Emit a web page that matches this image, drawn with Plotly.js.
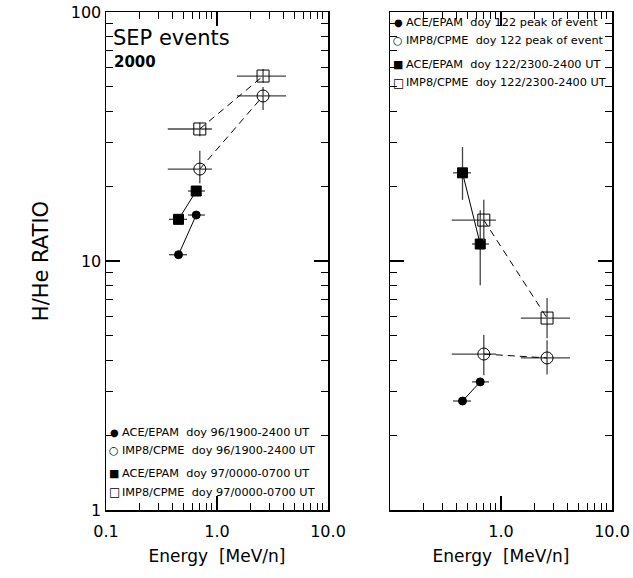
<!DOCTYPE html>
<html><head><meta charset="utf-8">
<script src="https://cdn.plot.ly/plotly-3.0.1.min.js"></script>
<style>body{margin:0;background:#fff}#c{width:633px;height:578px}</style>
</head><body><div id="c"></div>
<script>
// energies (MeV/n) and channel bounds
const eACE = [0.45, 0.65];
const eACElo = [0.37, 0.548];
const eACEhi = [0.537, 0.78];
const eIMP = [0.70, 2.6];
const eIMPlo = [0.36, 1.51];
const eIMPhi = [0.90, 4.19];
// left panel: H/He ratios
const ace96 = [10.6, 15.3];
const ace97 = [14.7, 19.1];
const imp96 = [23.4, 46];
const imp96lo = [20.5, 40.4];
const imp96hi = [27.7, 50];
const imp97 = [33.9, 55.3];
const imp97lo = [31.7, 52];
const imp97hi = [36, 59];
// right panel
const acePk = [2.74, 3.27];
const impPk = [4.23, 4.08];
const impPklo = [3.48, 3.5];
const impPkhi = [5.04, 4.8];
const ace23 = [22.6, 11.7];
const ace23lo = [17.6, 8.0];
const ace23hi = [28.7, 16.0];
const imp23 = [14.6, 5.9];
const imp23lo = [12.1, 4.9];
const imp23hi = [17.6, 7.1];
// tick labels
const xTickVals = [0.1, 1, 10];
const xTickLeft = ['0.1', '1.0', '10.0'];
const xTickRight = ['', '1.0', '10.0'];
const yTickVals = [1, 10, 100];
const yTickText = ['1', '10', '100'];

const W = 633, H = 578;
const ebc = '#444';
function xerr(x, lo, hi){return {type:'data', symmetric:false, array:hi.map((v,i)=>v-x[i]), arrayminus:x.map((v,i)=>v-lo[i]), color:ebc, thickness:1.3, width:0};}
function yerr(y, lo, hi){return {type:'data', symmetric:false, array:hi.map((v,i)=>v-y[i]), arrayminus:y.map((v,i)=>v-lo[i]), color:ebc, thickness:1.3, width:0};}
function tr(x, y, xa, ya, sym, size, dash, ex, ey){
  const t = {x:x, y:y, xaxis:xa, yaxis:ya, mode:'lines+markers', type:'scatter', showlegend:false,
    line:{color:'#000', width:1, dash:dash},
    marker:{symbol:sym, size:size, color:'#000', line:{color:'#000', width:1}}};
  if(ex) t.error_x = ex;
  if(ey) t.error_y = ey;
  return t;
}
const dsh = '7px,5px';
const data = [
  tr(eACE, ace96, 'x', 'y', 'circle', 8, 'solid', xerr(eACE,eACElo,eACEhi)),
  tr(eACE, ace97, 'x', 'y', 'square', 10, 'solid', xerr(eACE,eACElo,eACEhi)),
  tr(eIMP, imp96, 'x', 'y', 'circle-open', 12, dsh, xerr(eIMP,eIMPlo,eIMPhi), yerr(imp96,imp96lo,imp96hi)),
  tr(eIMP, imp97, 'x', 'y', 'square-open', 12, dsh, xerr(eIMP,eIMPlo,eIMPhi), yerr(imp97,imp97lo,imp97hi)),
  tr(eACE, acePk, 'x2', 'y2', 'circle', 8, 'solid', xerr(eACE,eACElo,eACEhi)),
  tr(eIMP, impPk, 'x2', 'y2', 'circle-open', 12, dsh, xerr(eIMP,eIMPlo,eIMPhi), yerr(impPk,impPklo,impPkhi)),
  tr(eACE, ace23, 'x2', 'y2', 'square', 10, 'solid', xerr(eACE,eACElo,eACEhi), yerr(ace23,ace23lo,ace23hi)),
  tr(eIMP, imp23, 'x2', 'y2', 'square-open', 12, dsh, xerr(eIMP,eIMPlo,eIMPhi), yerr(imp23,imp23lo,imp23hi))
];
const xMinor = [0.2,0.3,0.4,0.5,0.6,0.7,0.8,0.9,2,3,4,5,6,7,8,9];
const yMinor = [2,3,4,5,6,7,8,9,20,30,40,50,60,70,80,90];
const fnt = {family:'DejaVu Sans', size:16, color:'#000'};
function xax(dom, txt, anchor){
  return {type:'log', range:[-1,1], domain:dom, anchor:anchor, showgrid:false, zeroline:false,
    showline:true, linecolor:'#000', linewidth:1.5, mirror:'allticks', ticks:'inside', ticklen:14, tickwidth:1.2, tickcolor:'#000',
    tickvals:xTickVals, ticktext:txt, tickfont:fnt, ticklabelstandoff:6,
    minor:{ticks:'inside', ticklen:7, tickwidth:1, tickcolor:'#000', tickvals:xMinor, showgrid:false},
    title:{text:'Energy  [MeV/n]', font:{family:'DejaVu Sans', size:17, color:'#000'}, standoff:10}};
}
function yax(dom, showlab, anchor){
  return {type:'log', range:[0,2], domain:dom, anchor:anchor, showgrid:false, zeroline:false,
    showline:true, linecolor:'#000', linewidth:1.5, mirror:'allticks', ticks:'inside', ticklen:14, tickwidth:1.2, tickcolor:'#000',
    tickvals:yTickVals, ticktext: showlab ? yTickText : ['','',''], tickfont:fnt,
    minor:{ticks:'inside', ticklen:7, tickwidth:1, tickcolor:'#000', tickvals:yMinor, showgrid:false},
    title: showlab ? {text:'H/He RATIO', font:{family:'DejaVu Sans', size:21, color:'#000'}, standoff:16} : {text:''}};
}
const yd = [1-510/H, 1-12/H];
const legF = {family:'DejaVu Sans', size:11.3, color:'#000'};
function leg(xp, yp, s, t, ss){
  return [{xref:'paper', yref:'paper', x:xp/W, y:1-yp/H, text:s, showarrow:false, xanchor:'center', yanchor:'middle', font:{family:'DejaVu Sans', size:ss, color:'#000'}},
          {xref:'paper', yref:'paper', x:(xp+6)/W, y:1-yp/H, text:t, showarrow:false, xanchor:'left', yanchor:'middle', font:legF}];
}
const ann = [].concat(
  [{xref:'paper', yref:'paper', x:111/W, y:1-38/H, text:'SEP events', showarrow:false, xanchor:'left', yanchor:'middle', font:{family:'DejaVu Sans', size:21, color:'#000'}},
   {xref:'paper', yref:'paper', x:112/W, y:1-62/H, text:'<b>2000</b>', showarrow:false, xanchor:'left', yanchor:'middle', font:{family:'DejaVu Sans', size:15, color:'#000'}}],
  leg(114, 432, '●', 'ACE/EPAM  doy 96/1900-2400 UT', 10),
  leg(114, 450, '○', 'IMP8/CPME  doy 96/1900-2400 UT', 11),
  leg(114, 473, '■', 'ACE/EPAM  doy 97/0000-0700 UT', 11),
  leg(114, 492, '□', 'IMP8/CPME  doy 97/0000-0700 UT', 12),
  leg(398, 22, '●', 'ACE/EPAM  doy 122 peak of event', 10),
  leg(398, 41, '○', 'IMP8/CPME  doy 122 peak of event', 11),
  leg(398, 64, '■', 'ACE/EPAM  doy 122/2300-2400 UT', 11),
  leg(398, 83, '□', 'IMP8/CPME  doy 122/2300-2400 UT', 12)
);
const layout = {
  width:W, height:H, margin:{l:0, r:0, t:0, b:0}, paper_bgcolor:'#fff', plot_bgcolor:'#fff',
  xaxis: xax([106/W, 328/W], xTickLeft, 'y'),
  yaxis: yax(yd, true, 'x'),
  xaxis2: xax([390/W, 612/W], xTickRight, 'y2'),
  yaxis2: yax(yd, false, 'x2'),
  annotations: ann
};
Plotly.newPlot('c', data, layout, {staticPlot:true});
</script></body></html>
